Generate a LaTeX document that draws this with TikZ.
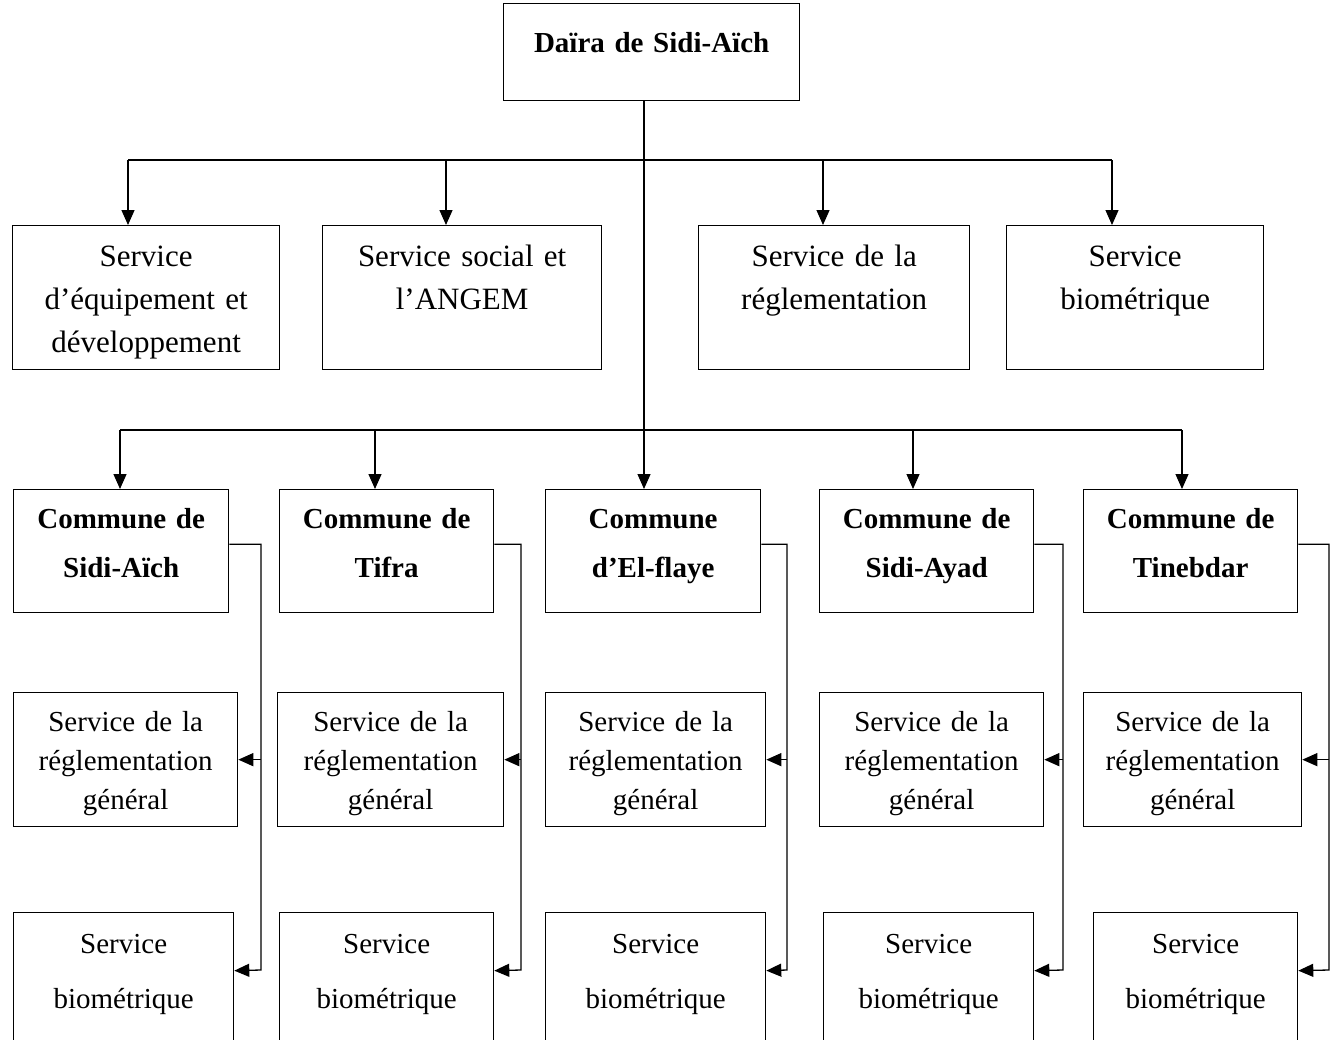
\documentclass[tikz,border=0pt]{standalone}
\usepackage{fontspec}
\setmainfont{Liberation Serif}
\usetikzlibrary{arrows.meta}

\begin{document}
\begin{tikzpicture}[x=1pt, y=-1pt, line width=1.3pt, >={Triangle[length=15pt,width=13pt]}]
	\tikzset{box/.style={draw, inner sep=0pt, anchor=north west, align=center},
		top/.style={box, font=\fontsize{29}{40}\bfseries\selectfont, text height=49pt, text depth=48pt},
		serv/.style={box, font=\fontsize{31}{43}\selectfont, text height=41pt, text depth=103pt},
		comm/.style={box, font=\fontsize{29}{49}\bfseries\selectfont, text height=39pt, text depth=84pt},
		regl/.style={box, font=\fontsize{29}{39}\selectfont, text height=39pt, text depth=95pt},
		bio/.style={box, font=\fontsize{29}{55}\selectfont, text height=41pt, text depth=107pt}}
	\useasboundingbox (0,0) rectangle (1338,1039);
	\clip (0,0) rectangle (1338,1039);

	\node[top, text width=296pt] (daira) at (503,3) {Daïra de Sidi-Aïch};

	\node[serv, text width=267pt] (s1) at (12,225) {Service\\d’équipement et\\développement};
	\node[serv, text width=279pt] (s2) at (322,225) {Service social et\\l’ANGEM};
	\node[serv, text width=271pt] (s3) at (698,225) {Service de la\\réglementation};
	\node[serv, text width=257pt] (s4) at (1006,225) {Service\\biométrique};

	\node[comm, text width=215pt] (c1) at (13,489) {Commune de\\Sidi-Aïch};
	\node[comm, text width=214pt] (c2) at (279,489) {Commune de\\Tifra};
	\node[comm, text width=215pt] (c3) at (545,489) {Commune\\d’El-flaye};
	\node[comm, text width=214pt] (c4) at (819,489) {Commune de\\Sidi-Ayad};
	\node[comm, text width=214pt] (c5) at (1083,489) {Commune de\\Tinebdar};

	\node[regl, text width=224pt] (m1) at (13,692) {Service de la\\réglementation\\général};
	\node[regl, text width=226pt] (m2) at (277,692) {Service de la\\réglementation\\général};
	\node[regl, text width=220pt] (m3) at (545,692) {Service de la\\réglementation\\général};
	\node[regl, text width=224pt] (m4) at (819,692) {Service de la\\réglementation\\général};
	\node[regl, text width=218pt] (m5) at (1083,692) {Service de la\\réglementation\\général};

	\node[bio, text width=220pt] (b1) at (13,912) {Service\\biométrique};
	\node[bio, text width=214pt] (b2) at (279,912) {Service\\biométrique};
	\node[bio, text width=220pt] (b3) at (545,912) {Service\\biométrique};
	\node[bio, text width=210pt] (b4) at (823,912) {Service\\biométrique};
	\node[bio, text width=204pt] (b5) at (1093,912) {Service\\biométrique};

	\coordinate (a1) at (128,160);
	\coordinate (a2) at (446,160);
	\coordinate (a3) at (823,160);
	\coordinate (a4) at (1112,160);
	\coordinate (k1) at (120,430);
	\coordinate (k2) at (375,430);
	\coordinate (k3) at (644,430);
	\coordinate (k4) at (913,430);
	\coordinate (k5) at (1182,430);

	\draw (daira.south -| k3) -- (k3);
	\draw (a1) -- (a4);
	\foreach \i in {1,...,4}
		\draw[->] (a\i) -- (a\i |- s\i.north);
	\draw (k1) -- (k5);
	\foreach \i in {1,...,5}
		\draw[->] (k\i) -- (k\i |- c\i.north);

	\foreach \i/\xr in {1/261,2/521,3/787,4/1063,5/1329} {
		\coordinate (r\i) at (\xr,970);
		\draw[->] ([yshift=7pt]c\i.east) -| (r\i) -- ([yshift=16pt]b\i.east);
		\draw[->] (r\i |- m\i.east) -- (m\i.east);
	}
\end{tikzpicture}
\end{document}
